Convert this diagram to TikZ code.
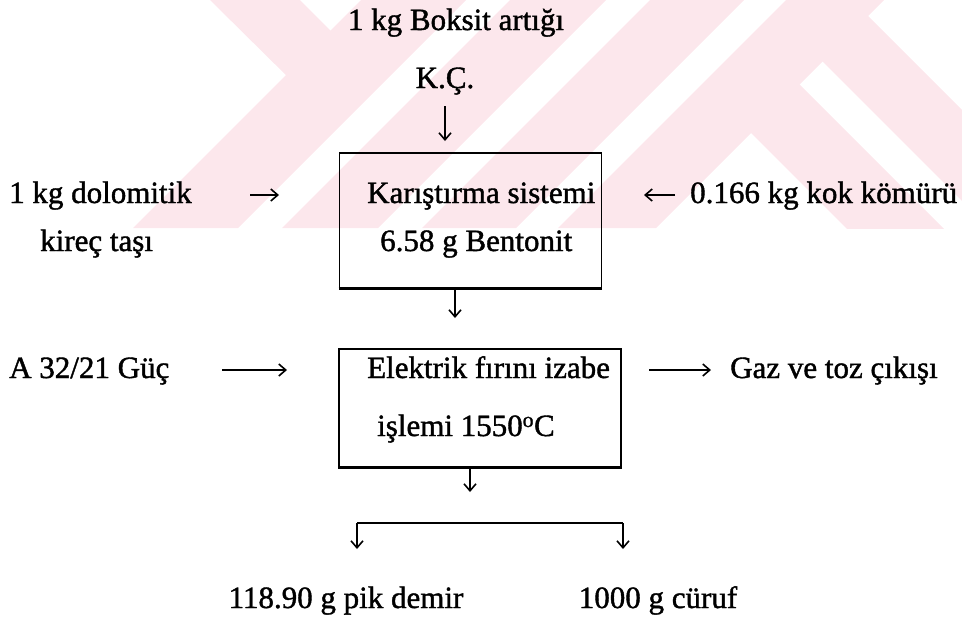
\documentclass[tikz,border=0pt]{standalone}
\usepackage{fontspec}
\setmainfont{Liberation Serif}[FakeBold=1.3]
\usetikzlibrary{arrows.meta}
\definecolor{wmpink}{RGB}{252,231,236}
\begin{document}
\begin{tikzpicture}[x=1pt,y=-1pt,
  lbl/.style={inner sep=0pt, font=\fontsize{31}{36}\selectfont},
  procbox/.style={draw, line width=1.6pt, inner sep=0pt},
  arr/.style={line width=1.5pt, -{Straight Barb[length=7pt,width=12pt,line width=1.6pt]}},
  flowline/.style={line width=2.4pt}
]
\useasboundingbox (0,0) rectangle (962,622);

% faint emblem in the upper band
\begin{scope}
  \clip (0,0) rectangle (962,228);
  \fill[wmpink] (361,0) -- (466,0) -- (238,228) -- (133,228) -- cycle;
  \fill[wmpink] (510,0) -- (606,0) -- (378,228) -- (282,228) -- cycle;
  \fill[wmpink] (650,0) -- (744,0) -- (516,228) -- (422,228) -- cycle;
  \fill[wmpink] (786,0) -- (884,0) -- (656,228) -- (558,228) -- cycle;
  \fill[wmpink] (210,0) -- (300,0) -- (340,40) -- (296,85) -- cycle;
  \fill[wmpink] (794.5,79.5) -- (746,128) -- (878,260) -- (975,260) -- cycle;
  \fill[wmpink] (863,11) -- (817.5,56.5) -- (1000,239) -- (1000,148) -- cycle;
\end{scope}

% process boxes
\node[procbox, minimum width=262pt, minimum height=135pt] (mix) at (470.5,220.5) {};
\draw[line width=2.8pt] (mix.south west) -- (mix.south east);
\node[procbox, minimum width=282pt, minimum height=118pt] (furn) at (480,408) {};
\draw[line width=2.8pt] (furn.south west) -- (furn.south east);

% texts
\node[lbl, anchor=base] (boksit) at (456,30) {1 kg Boksit artığı};
\node[lbl, anchor=base] (kc) at (445,88) {K.Ç.};
\node[lbl, anchor=base west] (kar) at (367,203) {Karıştırma sistemi};
\node[lbl, anchor=base west] (bent) at (380,251) {6.58 g Bentonit};
\node[lbl, anchor=base west] (dolo) at (9,203) {1 kg dolomitik};
\node[lbl, anchor=base west] (kirec) at (40,251) {kireç taşı};
\node[lbl, anchor=base west] (kok) at (690,203) {0.166 kg kok kömürü};
\node[lbl, anchor=base west] (guc) at (9,378) {A 32/21 Güç};
\node[lbl, anchor=base west] (elek) at (367,378) {Elektrik fırını izabe};
\node[lbl, anchor=base west] (isl) at (377,436) {işlemi 1550\textsuperscript{o}C};
\node[lbl, anchor=base west] (gaz) at (730,378) {Gaz ve toz çıkışı};
\node[lbl, anchor=base] (pik) at (346,608) {118.90 g pik demir};
\node[lbl, anchor=base] (curuf) at (658,608) {1000 g cüruf};

% connector end points
\coordinate (kcA) at (445,106);
\coordinate (kcB) at (445,141);
\coordinate (doA) at (250,195);
\coordinate (doB) at (279,195);
\coordinate (koA) at (675,195);
\coordinate (koB) at (644,195);
\coordinate (mixOut) at (455,318);
\coordinate (guA) at (222,370);
\coordinate (guB) at (287,370);
\coordinate (gaA) at (649,370);
\coordinate (gaB) at (711,370);
\coordinate (furOut) at (470,492);
\coordinate (brL) at (357,523);
\coordinate (brR) at (623,523);
\coordinate (pikIn) at (357,549);
\coordinate (curIn) at (623,549);

% connectors
\draw[arr] (kcA) -- (kcB);
\draw[arr] (doA) -- (doB);
\draw[arr] (koA) -- (koB);
\draw[arr] (mix.south -| mixOut) -- (mixOut);
\draw[arr] (guA) -- (guB);
\draw[arr] (gaA) -- (gaB);
\draw[arr] (furn.south -| furOut) -- (furOut);
\draw[flowline] (brL) -- (brR);
\draw[arr] (brL) -- (pikIn);
\draw[arr] (brR) -- (curIn);
\end{tikzpicture}
\end{document}
